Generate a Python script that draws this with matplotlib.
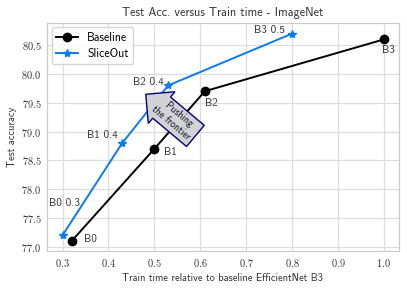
import matplotlib
matplotlib.use("Agg")
import matplotlib.pyplot as plt
from matplotlib.ticker import FuncFormatter

plt.rcParams['font.family'] = ['cmss10', 'DejaVu Sans']
plt.rcParams['mathtext.fontset'] = 'cm'
plt.rcParams['axes.unicode_minus'] = False

base_x = [0.32, 0.50, 0.61, 1.00]
base_y = [77.1, 78.7, 79.7, 80.6]
base_labels = ["B0", "B1", "B2", "B3"]

slice_x = [0.30, 0.43, 0.53, 0.80]
slice_y = [77.2, 78.8, 79.8, 80.7]
slice_labels = ["B0 0.3", "B1 0.4", "B2 0.4", "B3 0.5"]

xticks = [0.3, 0.4, 0.5, 0.6, 0.7, 0.8, 0.9, 1.0]
yticks = [77.0, 77.5, 78.0, 78.5, 79.0, 79.5, 80.0, 80.5]

fig = plt.figure(figsize=(4.07, 2.89), dpi=100)
ax = fig.add_axes([47/407, 1 - 251/289, 352/407, (251 - 22.7)/289])

ax.grid(True, color='#dddddd', linewidth=0.9)
ax.set_axisbelow(True)
for s in ax.spines.values():
    s.set_color('#cccccc')
    s.set_linewidth(0.9)

ax.plot(base_x, base_y, '-o', color='black', lw=1.4, ms=6, label='Baseline')
ax.plot(slice_x, slice_y, '-*', color='#0a7af5', lw=1.4, ms=6, label='SliceOut')

tc = '#333333'
px = 0.72
base_off = [((12, 2), 'left', 'center'), ((10, -3), 'left', 'center'),
            ((0, -7), 'left', 'top'), ((-2, -6), 'left', 'top')]
slice_off = [((2, 32), 'center', 'center'), ((-5, 8), 'right', 'center'),
             ((-4, 3), 'right', 'center'), ((-7, 4), 'right', 'center')]
for x, y, t, (o, ha, va) in zip(base_x, base_y, base_labels, base_off):
    ax.annotate(t, (x, y), xytext=(o[0]*px, o[1]*px), textcoords='offset points',
                ha=ha, va=va, fontsize=8, color=tc)
for x, y, t, (o, ha, va) in zip(slice_x, slice_y, slice_labels, slice_off):
    ax.annotate(t, (x, y), xytext=(o[0]*px, o[1]*px), textcoords='offset points',
                ha=ha, va=va, fontsize=8, color=tc)

ax.text(0.545, 79.22, "Pushing\nthe frontier", ha='center', va='center',
        rotation=-40, fontsize=7.2, color='#111133',
        bbox=dict(boxstyle='larrow,pad=0.3', fc='lightgray', ec='navy', lw=1))

ax.set_xlim(0.266, 1.033)
ax.set_ylim(76.925, 80.89)
ax.set_xticks(xticks)
ax.set_yticks(yticks)
ax.xaxis.set_major_formatter(FuncFormatter(lambda v, p: r'$%.1f$' % v))
ax.yaxis.set_major_formatter(FuncFormatter(lambda v, p: r'$%.1f$' % v))
ax.tick_params(length=0, labelsize=7.5, colors=tc, pad=4)

ax.set_xlabel('Train time relative to baseline EfficientNet B3', fontsize=7.5, color=tc, labelpad=3)
ax.set_ylabel('Test accuracy', fontsize=7.5, color=tc, labelpad=3)
ax.set_title('Test Acc. versus Train time - ImageNet', fontsize=8.7, color=tc, pad=5)

ax.legend(loc='upper left', fontsize=8.5, frameon=True, edgecolor='#cccccc',
          fancybox=True, handlelength=1.8, labelspacing=0.3, borderaxespad=0.4)

fig.savefig('out.png', dpi=100)
